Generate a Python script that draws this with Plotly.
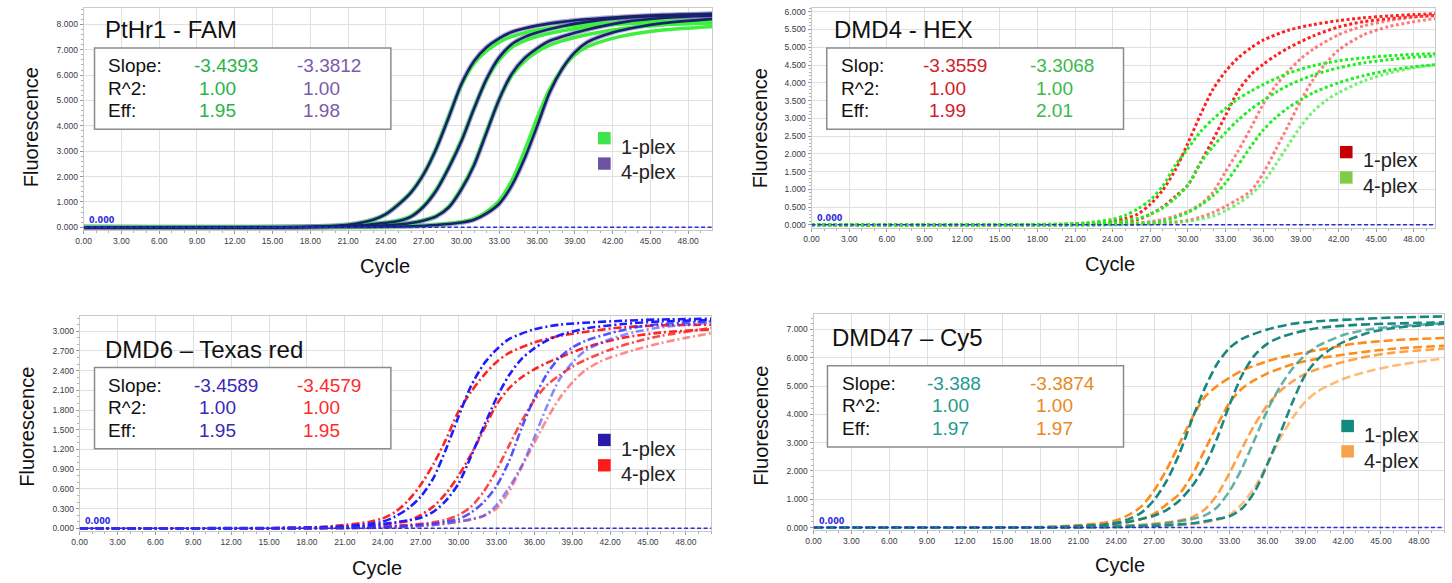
import plotly.graph_objects as go

W, H = 1452, 583

# ---------------- data ----------------
# Panel 1: PtHr1 - FAM   (1-plex green, 4-plex navy/purple)
P1_CYC_A = [0, 18, 21, 23, 24, 25, 26, 27, 28, 29, 30, 31, 32, 33, 34, 36, 38, 40, 43, 46, 50]
P1_1PLEX_A = [0, 0.02, 0.1, 0.3, 0.53, 0.92, 1.4, 2.12, 3.12, 4.4, 5.6, 6.45, 6.95, 7.3, 7.52, 7.78, 7.92, 8.0, 8.08, 8.12, 8.15]
P1_4PLEX_A = [0, 0.02, 0.1, 0.3, 0.52, 0.9, 1.38, 2.1, 3.1, 4.35, 5.65, 6.55, 7.1, 7.45, 7.7, 7.95, 8.1, 8.2, 8.3, 8.37, 8.42]
P1_CYC_B = [0, 18, 22, 24, 25, 26, 27, 28, 29, 30, 31, 32, 33, 34, 35, 36, 38, 40, 43, 46, 50]
P1_1PLEX_B = [0, 0.01, 0.08, 0.19, 0.27, 0.45, 0.85, 1.5, 2.4, 3.45, 4.7, 5.82, 6.6, 7.1, 7.35, 7.52, 7.75, 7.9, 8.02, 8.08, 8.1]
P1_4PLEX_B = [0, 0.01, 0.08, 0.18, 0.25, 0.42, 0.82, 1.45, 2.35, 3.4, 4.68, 5.85, 6.7, 7.22, 7.5, 7.68, 7.93, 8.1, 8.26, 8.34, 8.4]
P1_CYC_C = [0, 20, 24, 26, 27, 28, 29, 30, 31, 32, 33, 34, 35, 36, 37, 38, 40, 43, 46, 50]
P1_1PLEX_C = [0, 0.02, 0.08, 0.17, 0.28, 0.45, 0.82, 1.55, 2.5, 3.8, 5.05, 5.98, 6.55, 6.92, 7.18, 7.35, 7.6, 7.85, 7.98, 8.05]
P1_4PLEX_C = [0, 0.02, 0.08, 0.17, 0.27, 0.43, 0.79, 1.5, 2.45, 3.75, 5.05, 6.05, 6.66, 7.05, 7.35, 7.52, 7.8, 8.1, 8.25, 8.35]
P1_CYC_D = [0, 22, 26, 28, 30, 31, 32, 33, 34, 35, 36, 37, 38, 39, 40, 42, 44, 46, 50]
P1_1PLEX_D = [0, 0.01, 0.04, 0.1, 0.21, 0.34, 0.62, 1.05, 1.85, 3.0, 4.3, 5.45, 6.25, 6.8, 7.12, 7.45, 7.65, 7.78, 7.92]
P1_4PLEX_D = [0, 0.01, 0.04, 0.09, 0.19, 0.3, 0.55, 0.93, 1.65, 2.7, 3.98, 5.32, 6.25, 6.9, 7.3, 7.68, 7.9, 8.05, 8.22]

# Panel 2: DMD4 - HEX   (1-plex red, 4-plex green)
P2_CYC_A = [0, 20, 22, 24, 25, 26, 27, 28, 29, 30, 31, 32, 33, 34, 35, 36, 38, 40, 42, 44, 46, 48, 50]
P2_1PLEX_A = [0, 0.01, 0.04, 0.1, 0.18, 0.3, 0.58, 0.98, 1.55, 2.3, 3.1, 3.82, 4.32, 4.7, 4.98, 5.2, 5.48, 5.64, 5.75, 5.83, 5.88, 5.92, 5.95]
P2_4PLEX_A = [0, 0.02, 0.06, 0.16, 0.27, 0.45, 0.7, 1.1, 1.68, 2.15, 2.62, 2.98, 3.28, 3.55, 3.76, 3.95, 4.27, 4.48, 4.62, 4.7, 4.76, 4.8, 4.82]
P2_CYC_B = [0, 20, 24, 26, 27, 28, 29, 30, 31, 32, 33, 34, 35, 36, 37, 38, 40, 42, 44, 46, 48, 50]
P2_1PLEX_B = [0, 0.01, 0.05, 0.15, 0.3, 0.5, 0.8, 1.12, 1.75, 2.4, 3.08, 3.77, 4.22, 4.52, 4.77, 4.98, 5.32, 5.57, 5.72, 5.8, 5.86, 5.9]
P2_4PLEX_B = [0, 0.02, 0.06, 0.18, 0.3, 0.48, 0.75, 1.12, 1.75, 2.2, 2.6, 2.95, 3.25, 3.5, 3.73, 3.93, 4.22, 4.42, 4.56, 4.65, 4.72, 4.76]
P2_CYC_C1 = [0, 22, 26, 28, 29, 30, 31, 32, 33, 34, 35, 36, 37, 38, 39, 40, 42, 44, 46, 48, 50]
P2_1PLEX_C = [0, 0.01, 0.05, 0.15, 0.25, 0.38, 0.58, 0.92, 1.5, 2.08, 2.72, 3.4, 3.92, 4.33, 4.68, 4.95, 5.35, 5.6, 5.75, 5.85, 5.9]
P2_CYC_C4 = [0, 24, 28, 30, 31, 32, 33, 34, 35, 36, 37, 38, 39, 40, 42, 44, 46, 48, 50]
P2_4PLEX_C = [0, 0.01, 0.1, 0.35, 0.55, 0.82, 1.18, 1.68, 2.2, 2.67, 3.02, 3.3, 3.52, 3.72, 4.0, 4.2, 4.35, 4.45, 4.52]
P2_CYC_D1 = [0, 24, 28, 30, 31, 32, 33, 34, 35, 36, 37, 38, 39, 40, 41, 42, 44, 46, 48, 50]
P2_1PLEX_D = [0, 0.01, 0.05, 0.13, 0.22, 0.35, 0.52, 0.72, 0.95, 1.45, 2.12, 2.8, 3.5, 4.1, 4.55, 4.92, 5.35, 5.58, 5.72, 5.82]
P2_CYC_D4 = [0, 26, 30, 32, 33, 34, 35, 36, 37, 38, 39, 40, 41, 42, 44, 46, 48, 50]
P2_4PLEX_D = [0, 0.01, 0.1, 0.25, 0.4, 0.6, 0.85, 1.2, 1.7, 2.25, 2.78, 3.2, 3.5, 3.72, 4.05, 4.27, 4.42, 4.52]

# Panel 3: DMD6 - Texas red   (1-plex blue, 4-plex red)
P3_CYC_A = [0, 18, 21, 23, 24, 25, 26, 27, 28, 29, 30, 31, 32, 33, 34, 36, 38, 40, 43, 46, 50]
P3_1PLEX_A = [0, 0.01, 0.03, 0.07, 0.1, 0.18, 0.3, 0.48, 0.76, 1.2, 1.7, 2.17, 2.5, 2.72, 2.88, 3.03, 3.1, 3.13, 3.16, 3.18, 3.19]
P3_4PLEX_A = [0, 0.01, 0.05, 0.1, 0.15, 0.25, 0.42, 0.66, 0.97, 1.35, 1.78, 2.08, 2.33, 2.53, 2.67, 2.83, 2.93, 2.99, 3.06, 3.09, 3.1]
P3_CYC_B = [0, 20, 23, 25, 26, 27, 28, 29, 30, 31, 32, 33, 34, 35, 36, 37, 38, 40, 43, 46, 50]
P3_1PLEX_B = [0, 0.01, 0.04, 0.09, 0.12, 0.16, 0.25, 0.42, 0.68, 1.1, 1.55, 1.98, 2.33, 2.58, 2.74, 2.86, 2.94, 3.04, 3.11, 3.15, 3.17]
P3_4PLEX_B = [0, 0.01, 0.04, 0.08, 0.11, 0.2, 0.33, 0.53, 0.8, 1.13, 1.5, 1.88, 2.13, 2.3, 2.42, 2.52, 2.6, 2.75, 2.9, 2.98, 3.03]
P3_CYC_C = [0, 22, 26, 28, 29, 30, 31, 32, 33, 34, 35, 36, 37, 38, 39, 40, 42, 44, 46, 50]
P3_1PLEX_C = [0, 0.01, 0.04, 0.07, 0.1, 0.14, 0.24, 0.4, 0.64, 1.02, 1.53, 1.98, 2.35, 2.6, 2.75, 2.85, 2.97, 3.06, 3.11, 3.15]
P3_4PLEX_C = [0, 0.01, 0.05, 0.09, 0.13, 0.2, 0.33, 0.56, 0.88, 1.26, 1.63, 1.95, 2.18, 2.33, 2.46, 2.56, 2.72, 2.84, 2.93, 3.05]
P3_CYC_D = [0, 24, 28, 30, 31, 32, 33, 34, 35, 36, 37, 38, 39, 40, 41, 42, 44, 46, 48, 50]
P3_1PLEX_D = [0, 0.01, 0.05, 0.1, 0.14, 0.19, 0.35, 0.62, 0.95, 1.38, 1.86, 2.27, 2.52, 2.7, 2.8, 2.88, 2.99, 3.06, 3.1, 3.13]
P3_4PLEX_D = [0, 0.01, 0.05, 0.1, 0.13, 0.19, 0.3, 0.56, 0.93, 1.3, 1.66, 1.98, 2.22, 2.4, 2.52, 2.6, 2.72, 2.82, 2.9, 2.97]

# Panel 4: DMD47 - Cy5   (1-plex teal, 4-plex orange)
P4_CYC_A = [0, 18, 21, 23, 24, 25, 26, 27, 28, 29, 30, 31, 32, 33, 34, 36, 38, 40, 43, 46, 50]
P4_1PLEX_A = [0, 0.01, 0.05, 0.1, 0.17, 0.3, 0.53, 0.97, 1.65, 2.6, 3.8, 4.9, 5.78, 6.35, 6.67, 7.0, 7.2, 7.29, 7.36, 7.42, 7.46]
P4_4PLEX_A = [0, 0.02, 0.08, 0.17, 0.26, 0.45, 0.75, 1.3, 2.05, 2.95, 3.85, 4.6, 5.0, 5.3, 5.55, 5.88, 6.1, 6.27, 6.5, 6.62, 6.7]
P4_CYC_B = [0, 20, 23, 25, 26, 27, 28, 29, 30, 31, 32, 33, 34, 35, 36, 37, 38, 40, 43, 46, 50]
P4_1PLEX_B = [0, 0.02, 0.09, 0.2, 0.3, 0.42, 0.62, 0.95, 1.45, 2.15, 3.15, 4.35, 5.4, 6.1, 6.5, 6.72, 6.86, 7.05, 7.16, 7.21, 7.25]
P4_4PLEX_B = [0, 0.02, 0.1, 0.22, 0.3, 0.48, 0.82, 1.18, 1.84, 2.72, 3.6, 4.42, 4.92, 5.22, 5.45, 5.62, 5.77, 5.97, 6.17, 6.32, 6.42]
P4_CYC_C = [0, 22, 26, 28, 29, 30, 31, 32, 33, 34, 35, 36, 37, 38, 39, 40, 42, 44, 46, 50]
P4_1PLEX_C = [0, 0.02, 0.08, 0.15, 0.22, 0.3, 0.42, 0.72, 1.3, 2.12, 3.13, 4.15, 4.98, 5.63, 6.1, 6.42, 6.8, 7.0, 7.1, 7.22]
P4_4PLEX_C = [0, 0.02, 0.1, 0.18, 0.25, 0.36, 0.63, 1.15, 1.94, 2.82, 3.65, 4.33, 4.82, 5.17, 5.43, 5.6, 5.85, 6.05, 6.18, 6.32]
P4_CYC_D = [0, 24, 28, 30, 31, 32, 33, 34, 35, 36, 37, 38, 39, 40, 41, 42, 44, 46, 50]
P4_1PLEX_D = [0, 0.02, 0.08, 0.15, 0.22, 0.3, 0.4, 0.68, 1.28, 2.25, 3.32, 4.45, 5.4, 5.95, 6.3, 6.55, 6.88, 7.05, 7.2]
P4_4PLEX_D = [0, 0.02, 0.07, 0.12, 0.18, 0.27, 0.45, 0.85, 1.43, 2.25, 3.15, 3.88, 4.45, 4.82, 5.05, 5.25, 5.52, 5.72, 5.98]

# ticks
X_TICKS = [0, 3, 6, 9, 12, 15, 18, 21, 24, 27, 30, 33, 36, 39, 42, 45, 48]
P1_Y_TICKS = [0, 1, 2, 3, 4, 5, 6, 7, 8]
P2_Y_TICKS = [0, 0.5, 1, 1.5, 2, 2.5, 3, 3.5, 4, 4.5, 5, 5.5, 6]
P3_Y_TICKS = [0, 0.3, 0.6, 0.9, 1.2, 1.5, 1.8, 2.1, 2.4, 2.7, 3.0]
P4_Y_TICKS = [0, 1, 2, 3, 4, 5, 6, 7]
THRESHOLDS = [0.0, 0.0, 0.0, 0.0]

# text content
PANEL_TITLES = ["PtHr1 - FAM", "DMD4 - HEX", "DMD6 \u2013 Texas red", "DMD47 \u2013 Cy5"]
ROW_LABELS = [["Slope:", "R^2:", "Eff:"], ["Slop:", "R^2:", "Eff:"],
              ["Slope:", "R^2:", "Eff:"], ["Slope:", "R^2:", "Eff:"]]
STATS_1PLEX = [["-3.4393", "1.00", "1.95"], ["-3.3559", "1.00", "1.99"],
               ["-3.4589", "1.00", "1.95"], ["-3.388", "1.00", "1.97"]]
STATS_4PLEX = [["-3.3812", "1.00", "1.98"], ["-3.3068", "1.00", "2.01"],
               ["-3.4579", "1.00", "1.95"], ["-3.3874", "1.00", "1.97"]]
LEGEND_LABELS = ["1-plex", "4-plex"]

# ---------------- styling / layout ----------------
FONT = "Liberation Sans"

PANELS = [
    dict(xa="x", ya="y", left=76, right=708, top=7, bottom=230, xr=[0, 49.9], zero=227.5, ppu=25.5,
         yt=P1_Y_TICKS, ydt=0.2,
         title_xy=(96, 29), fl_xy=(23, 127), cy_xy=(379, 266),
         box=(87, 47.3, 385, 129), lab_x=99, c1=(185, 190), c2=(289, 295), rows=(65, 87.5, 110),
         leg=(593.3, 131.7, 146.7, 614), txt_cols=("#27b34a", "#7a5aaa"),
         leg_cols=("#3de44c", "#6c52a2")),
    dict(xa="x2", ya="y2", left=808, right=1435, top=7, bottom=228, xr=[0, 49.7], zero=225, ppu=35.7,
         yt=P2_Y_TICKS, ydt=0.1,
         title_xy=(829, 29), fl_xy=(757, 128), cy_xy=(1108, 264),
         box=(823.3, 47.3, 1121.7, 129), lab_x=836, c1=(917.7, 924), c2=(1026, 1031.7), rows=(65, 87.5, 110),
         leg=(1339.3, 145.7, 160, 1360.7), txt_cols=("#d0202a", "#3cb84a"),
         leg_cols=("#c40000", "#80cc44")),
    dict(xa="x3", ya="y3", left=72, right=707, top=317, bottom=533, xr=[0, 50.0], zero=530, ppu=66,
         yt=P3_Y_TICKS, ydt=0.1,
         title_xy=(96, 350), fl_xy=(19, 428), cy_xy=(371, 570),
         box=(87, 368.3, 385, 450), lab_x=99, c1=(185, 190), c2=(289, 295), rows=(386.7, 408.5, 431.5),
         leg=(593.3, 435, 450, 614), txt_cols=("#3a28b8", "#ff2a2a"),
         leg_cols=("#2a1aa8", "#ff1a1a")),
    dict(xa="x4", ya="y4", left=810, right=1444, top=315, bottom=532, xr=[0, 50.0], zero=529.3, ppu=28.45,
         yt=P4_Y_TICKS, ydt=0.2,
         title_xy=(827, 338), fl_xy=(757, 427), cy_xy=(1118, 567),
         box=(824, 366.7, 1121.7, 448.3), lab_x=836.7, c1=(921.7, 927.3), c2=(1026, 1031.7),
         rows=(384.3, 406.5, 429.3),
         leg=(1340.7, 421, 436.7, 1361.7), txt_cols=("#1f9a90", "#e8881e"),
         leg_cols=("#128a7e", "#f5a24a")),
]

fig = go.Figure()


def add_curve(p, cyc, vals, color, width, dash="solid"):
    fig.add_trace(go.Scatter(
        x=cyc, y=vals, mode="lines", xaxis=p["xa"], yaxis=p["ya"],
        line=dict(color=color, width=width, dash=dash, shape="spline", smoothing=0.8),
        hoverinfo="skip", showlegend=False))


# Panel 1 curves
p = PANELS[0]
p1_groups = [(P1_CYC_A, P1_1PLEX_A, P1_4PLEX_A), (P1_CYC_B, P1_1PLEX_B, P1_4PLEX_B),
             (P1_CYC_C, P1_1PLEX_C, P1_4PLEX_C), (P1_CYC_D, P1_1PLEX_D, P1_4PLEX_D)]
for cyc, one, four in p1_groups:
    add_curve(p, cyc, four, "rgba(104,88,172,0.5)", 5)
for cyc, one, four in p1_groups:
    add_curve(p, cyc, one, "#3ef03e", 3.5)
for cyc, one, four in p1_groups:
    add_curve(p, cyc, four, "#16226a", 2.6)

# Panel 2 curves (dotted)
p = PANELS[1]
DOT = "3px,2.5px"
p2_red = [(P2_CYC_A, P2_1PLEX_A, "#ff2020"), (P2_CYC_B, P2_1PLEX_B, "#ff2020"),
          (P2_CYC_C1, P2_1PLEX_C, "rgba(255,70,70,0.7)"), (P2_CYC_D1, P2_1PLEX_D, "rgba(255,70,70,0.7)")]
p2_green = [(P2_CYC_A, P2_4PLEX_A, "#22ee22"), (P2_CYC_B, P2_4PLEX_B, "#22ee22"),
            (P2_CYC_C4, P2_4PLEX_C, "#22ee22"), (P2_CYC_D4, P2_4PLEX_D, "rgba(60,235,60,0.7)")]
for cyc, vals, col in p2_red:
    add_curve(p, cyc, vals, col, 3, DOT)
for cyc, vals, col in p2_green:
    add_curve(p, cyc, vals, col, 3, DOT)

# Panel 3 curves (dash-dot)
p = PANELS[2]
DASHDOT = "8px,3px,2px,3px"
p3_red = [(P3_CYC_A, P3_4PLEX_A, "#ff2424"), (P3_CYC_B, P3_4PLEX_B, "#ff2424"),
          (P3_CYC_C, P3_4PLEX_C, "rgba(255,40,40,0.85)"), (P3_CYC_D, P3_4PLEX_D, "rgba(255,60,60,0.6)")]
p3_blue = [(P3_CYC_A, P3_1PLEX_A, "#1c1cff"), (P3_CYC_B, P3_1PLEX_B, "#1c1cff"),
           (P3_CYC_C, P3_1PLEX_C, "rgba(40,40,255,0.8)"), (P3_CYC_D, P3_1PLEX_D, "rgba(60,60,255,0.6)")]
for cyc, vals, col in p3_red:
    add_curve(p, cyc, vals, col, 2.6, DASHDOT)
for cyc, vals, col in p3_blue:
    add_curve(p, cyc, vals, col, 2.6, DASHDOT)

# Panel 4 curves (dashed)
p = PANELS[3]
DASH = "9px,4px"
p4_orange = [(P4_CYC_A, P4_4PLEX_A, "#ff8c1a"), (P4_CYC_B, P4_4PLEX_B, "#ff8c1a"),
             (P4_CYC_C, P4_4PLEX_C, "rgba(255,140,26,0.8)"), (P4_CYC_D, P4_4PLEX_D, "rgba(255,150,50,0.65)")]
p4_teal = [(P4_CYC_A, P4_1PLEX_A, "#17877f"), (P4_CYC_B, P4_1PLEX_B, "#17877f"),
           (P4_CYC_C, P4_1PLEX_C, "rgba(30,145,135,0.7)"), (P4_CYC_D, P4_1PLEX_D, "#1f8a80")]
for cyc, vals, col in p4_orange:
    add_curve(p, cyc, vals, col, 2.6, DASH)
for cyc, vals, col in p4_teal:
    add_curve(p, cyc, vals, col, 2.6, DASH)

# ---------------- axes, annotations, shapes ----------------
layout = dict(width=W, height=H, margin=dict(l=0, r=0, t=0, b=0),
              paper_bgcolor="white", plot_bgcolor="white", showlegend=False)
annotations = []
shapes = []


def fx(v):
    return v / W


def fy(v):
    return 1 - v / H


tickfont = dict(family=FONT, size=8.5, color="#3a3a48")
for i, p in enumerate(PANELS):
    xkey = "xaxis" if i == 0 else "xaxis%d" % (i + 1)
    ykey = "yaxis" if i == 0 else "yaxis%d" % (i + 1)
    yr = [(p["zero"] - p["bottom"]) / p["ppu"], (p["zero"] - p["top"]) / p["ppu"]]
    layout[xkey] = dict(
        domain=[fx(p["left"]), fx(p["right"])], range=p["xr"], anchor=p["ya"],
        tickmode="array", tickvals=X_TICKS, ticktext=["%.2f" % v for v in X_TICKS],
        showgrid=True, gridcolor="#e0e0e0", gridwidth=1, zeroline=False,
        showline=True, mirror=True, linecolor="#c9c9c9", linewidth=1,
        ticks="outside", ticklen=3, tickcolor="#9a9a9a", tickfont=tickfont,
        minor=dict(tickmode="linear", tick0=0, dtick=1, ticklen=2, tickcolor="#b0b0b0", showgrid=False),
        fixedrange=True)
    layout[ykey] = dict(
        domain=[fy(p["bottom"]), fy(p["top"])], range=yr, anchor=p["xa"],
        tickmode="array", tickvals=p["yt"], ticktext=["%.3f" % v for v in p["yt"]],
        showgrid=True, gridcolor="#e0e0e0", gridwidth=1, zeroline=False,
        showline=True, mirror=True, linecolor="#c9c9c9", linewidth=1,
        ticks="outside", ticklen=3, tickcolor="#9a9a9a", tickfont=tickfont,
        minor=dict(tickmode="linear", tick0=0, dtick=p["ydt"], ticklen=2, tickcolor="#b0b0b0", showgrid=False),
        fixedrange=True)

    # threshold line (drawn above traces)
    shapes.append(dict(type="line", xref=p["xa"] + " domain", yref=p["ya"], x0=0, x1=1,
                       y0=THRESHOLDS[i], y1=THRESHOLDS[i], layer="above",
                       line=dict(color="#2b2be0", width=1.5, dash="4px,2.5px")))
    annotations.append(dict(xref=p["xa"], yref=p["ya"], x=0.3, y=THRESHOLDS[i], yshift=0,
                            text="<b>0.000</b>", showarrow=False, xanchor="left", yanchor="bottom",
                            font=dict(family="DejaVu Sans", size=8, color="#2b2be0")))

    # panel title
    annotations.append(dict(xref="paper", yref="paper", x=fx(p["title_xy"][0]), y=fy(p["title_xy"][1]),
                            text=PANEL_TITLES[i], showarrow=False, xanchor="left", yanchor="middle",
                            font=dict(family=FONT, size=24, color="#111111")))
    # axis titles
    annotations.append(dict(xref="paper", yref="paper", x=fx(p["fl_xy"][0]), y=fy(p["fl_xy"][1]),
                            text="Fluorescence", textangle=-90, showarrow=False,
                            xanchor="center", yanchor="middle",
                            font=dict(family=FONT, size=20, color="#111111")))
    annotations.append(dict(xref="paper", yref="paper", x=fx(p["cy_xy"][0]), y=fy(p["cy_xy"][1]),
                            text="Cycle", showarrow=False, xanchor="center", yanchor="middle",
                            font=dict(family=FONT, size=20, color="#111111")))

    # stats box
    bx0, by0, bx1, by1 = p["box"]
    shapes.append(dict(type="rect", xref="paper", yref="paper", x0=fx(bx0), x1=fx(bx1),
                       y0=fy(by1), y1=fy(by0), layer="above", fillcolor="white",
                       line=dict(color="#8c8c8c", width=1.5)))
    for r in range(3):
        yy = fy(p["rows"][r])
        annotations.append(dict(xref="paper", yref="paper", x=fx(p["lab_x"]), y=yy,
                                text=ROW_LABELS[i][r], showarrow=False, xanchor="left", yanchor="middle",
                                font=dict(family=FONT, size=19, color="#111111")))
        x1 = p["c1"][0] if r == 0 else p["c1"][1]
        x2 = p["c2"][0] if r == 0 else p["c2"][1]
        annotations.append(dict(xref="paper", yref="paper", x=fx(x1), y=yy,
                                text=STATS_1PLEX[i][r], showarrow=False, xanchor="left", yanchor="middle",
                                font=dict(family=FONT, size=19, color=p["txt_cols"][0])))
        annotations.append(dict(xref="paper", yref="paper", x=fx(x2), y=yy,
                                text=STATS_4PLEX[i][r], showarrow=False, xanchor="left", yanchor="middle",
                                font=dict(family=FONT, size=19, color=p["txt_cols"][1])))

    # legend (squares + labels)
    lx, ly, lty, ltx = p["leg"]
    for k in range(2):
        off = 25.5 * k
        shapes.append(dict(type="rect", xref="paper", yref="paper", x0=fx(lx), x1=fx(lx + 12.7),
                           y0=fy(ly + off + 12.4), y1=fy(ly + off), layer="above",
                           fillcolor=p["leg_cols"][k], line=dict(width=0)))
        annotations.append(dict(xref="paper", yref="paper", x=fx(ltx), y=fy(lty + off),
                                text=LEGEND_LABELS[k], showarrow=False, xanchor="left", yanchor="middle",
                                font=dict(family=FONT, size=20, color="#222222")))

layout["annotations"] = annotations
layout["shapes"] = shapes
fig.update_layout(**layout)
fig.write_html("out.html", config={"displayModeBar": False},
               post_script="document.body.style.margin='0';document.body.style.overflow='hidden';")
